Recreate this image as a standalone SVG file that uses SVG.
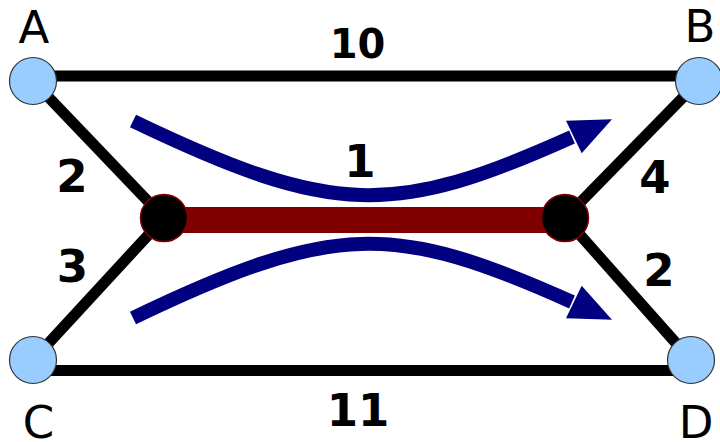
<svg xmlns="http://www.w3.org/2000/svg" width="720" height="442" viewBox="0 0 720 442">
<style>
.edge{stroke:#000;stroke-width:11;fill:none}
.bar{stroke:#800000;stroke-width:26;fill:none}
.flow{stroke:#000080;stroke-width:14;fill:none}
.outer{fill:#99ccff;stroke:#333;stroke-width:1.2}
.inner{fill:#000;stroke:#800000;stroke-width:1.5}
.lbl{font-family:"DejaVu Sans",sans-serif;font-size:45px;fill:#000;text-anchor:middle}
.w{font-family:"DejaVu Sans",sans-serif;font-weight:bold;font-size:45px;fill:#000;text-anchor:middle}
</style>
<rect width="720" height="442" fill="#fff"/>
<g id="connectors">
<line class="edge" x1="33" y1="76" x2="699" y2="76"/>
<line class="edge" x1="33" y1="370.5" x2="691" y2="370.5"/>
<line class="edge" x1="33" y1="81" x2="164" y2="218"/>
<line class="edge" x1="33" y1="360" x2="164" y2="218"/>
<line class="edge" x1="699" y1="81" x2="565" y2="218"/>
<line class="edge" x1="691" y1="360" x2="565" y2="218"/>
<line class="bar" x1="164" y1="220" x2="565" y2="220"/>
<path class="flow" d="M133,121 C333,217 394,217 572,137"/>
<polygon fill="#000080" points="566,120.7 612,119.3 581.7,153.3"/>
<path class="flow" d="M133,318 C333,222 394,222 572,302"/>
<polygon fill="#000080" points="566,318.3 612,319.7 581.7,285.7"/>
</g>
<g id="A"><circle class="outer" cx="33" cy="81" r="23.5"/><text class="lbl" x="34" y="43">A</text></g>
<g id="B"><circle class="outer" cx="699" cy="81" r="23.5"/><text class="lbl" x="700" y="42">B</text></g>
<g id="C"><circle class="outer" cx="33" cy="360" r="23.5"/><text class="lbl" x="38.5" y="438">C</text></g>
<g id="D"><circle class="outer" cx="691" cy="360" r="23.5"/><text class="lbl" x="696" y="438">D</text></g>
<g id="L"><circle class="inner" cx="164" cy="218" r="23.5"/></g>
<g id="R"><circle class="inner" cx="565" cy="218" r="23.5"/></g>
<g id="labels">
<text class="w" x="357.5" y="58" style="font-size:40px">10</text>
<text class="w" x="360" y="177">1</text>
<text class="w" x="72" y="192">2</text>
<text class="w" x="72.5" y="282">3</text>
<text class="w" x="655" y="193">4</text>
<text class="w" x="659" y="286">2</text>
<text class="w" x="358" y="426">11</text>
</g>
</svg>
